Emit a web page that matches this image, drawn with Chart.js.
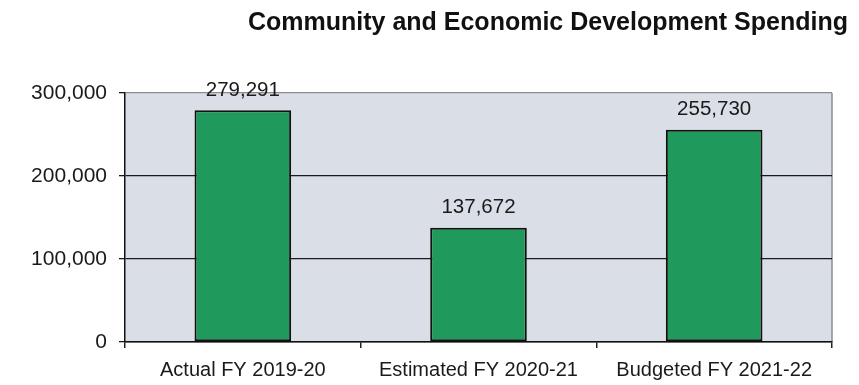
<!DOCTYPE html>
<html>
<head>
<meta charset="utf-8">
<script src="https://cdn.jsdelivr.net/npm/chart.js@4.4.0/dist/chart.umd.min.js"></script>
<style>
  html, body { margin: 0; padding: 0; background: #ffffff; }
  #wrap { width: 859px; height: 385px; position: relative; }
</style>
</head>
<body>
<div id="wrap"><canvas id="myChart" width="859" height="385"></canvas></div>
<script>
// spending by fiscal year
const categories = ['Actual FY 2019-20', 'Estimated FY 2020-21', 'Budgeted FY 2021-22'];
const spending = [279291, 137672, 255730];
const yTicks = [0, 100000, 200000, 300000];
const chartTitle = 'Community and Economic Development Spending';

const fmt = v => v.toLocaleString('en-US');

// grey plot background plus the right-hand border
const plotBackground = {
  id: 'plotBackground',
  beforeDraw(chart) {
    const { ctx, chartArea: a } = chart;
    ctx.save();
    ctx.fillStyle = '#dadee6';
    ctx.fillRect(a.left, a.top, a.right - a.left, a.bottom - a.top);
    ctx.strokeStyle = '#8c8c8c';
    ctx.lineWidth = 1.5;
    ctx.beginPath();
    ctx.moveTo(a.right, a.top);
    ctx.lineTo(a.right, a.bottom);
    ctx.stroke();
    ctx.restore();
  }
};

// value above each bar
const barValues = {
  id: 'barValues',
  afterDatasetsDraw(chart) {
    const { ctx } = chart;
    const meta = chart.getDatasetMeta(0);
    ctx.save();
    ctx.font = '20.5px "Liberation Sans", Arial, sans-serif';
    ctx.fillStyle = '#1a1a1a';
    ctx.textAlign = 'center';
    ctx.textBaseline = 'bottom';
    meta.data.forEach((bar, i) => {
      ctx.fillText(fmt(spending[i]), bar.x, bar.y - 10);
    });
    ctx.restore();
  }
};

// heading, right aligned near the page edge
const heading = {
  id: 'heading',
  afterDraw(chart) {
    const { ctx } = chart;
    ctx.save();
    ctx.font = 'bold 25px "Liberation Sans", Arial, sans-serif';
    ctx.fillStyle = '#111111';
    ctx.textAlign = 'right';
    ctx.textBaseline = 'alphabetic';
    ctx.fillText(chartTitle, 848, 30);
    ctx.restore();
  }
};

const ctx = document.getElementById('myChart').getContext('2d');
const myChart = new Chart(ctx, {
  type: 'bar',
  data: {
    labels: categories,
    datasets: [{
      data: spending,
      backgroundColor: '#1f9a5c',
      borderColor: '#111111',
      borderWidth: 2,
      borderSkipped: false,
      categoryPercentage: 1,
      barPercentage: 0.41
    }]
  },
  options: {
    responsive: false,
    animation: false,
    layout: { padding: { top: 93, right: 27, bottom: 0, left: 0 } },
    plugins: {
      legend: { display: false },
      title: { display: false },
      tooltip: { enabled: false }
    },
    scales: {
      x: {
        afterFit(scale) {
          scale.height = 43;
        },
        grid: {
          offset: true,
          drawOnChartArea: false,
          color: '#222222',
          tickLength: 6,
          lineWidth: 1.5
        },
        border: { color: '#111111', width: 1.5 },
        ticks: {
          color: '#1a1a1a',
          padding: 10,
          font: { family: '"Liberation Sans", Arial, sans-serif', size: 20 }
        }
      },
      y: {
        min: 0,
        max: 300000,
        afterBuildTicks(scale) {
          scale.ticks = yTicks.map(v => ({ value: v }));
        },
        afterFit(scale) {
          scale.width = 125;
        },
        grid: {
          color: c => c.tick && c.tick.value === 300000 ? '#8c8c8c' : '#1a1a1a',
          tickColor: '#1a1a1a',
          tickLength: 6,
          lineWidth: 1.3
        },
        border: { color: '#111111', width: 1.5 },
        ticks: {
          color: '#1a1a1a',
          padding: 12,
          callback: v => fmt(v),
          font: { family: '"Liberation Sans", Arial, sans-serif', size: 21 }
        }
      }
    }
  },
  plugins: [plotBackground, barValues, heading]
});
</script>
</body>
</html>
